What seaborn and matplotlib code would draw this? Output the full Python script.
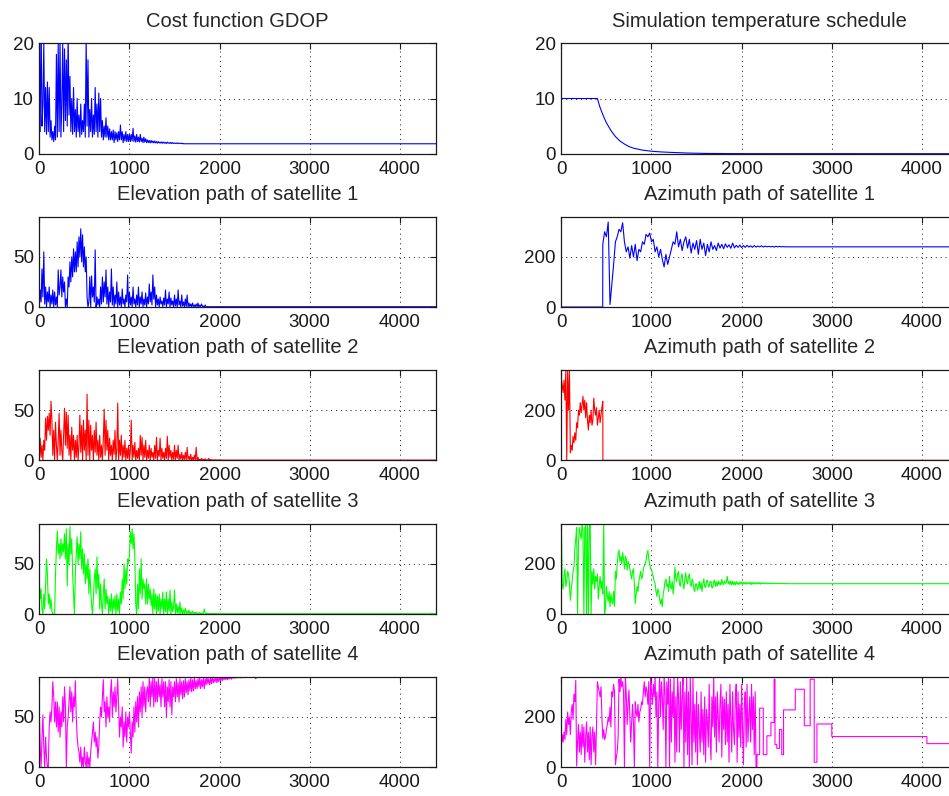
import numpy as np
import seaborn as sns
import matplotlib
matplotlib.use("Agg")
import matplotlib.pyplot as plt

sns.set_theme(style="white")
plt.rcParams['font.family'] = ['Liberation Sans', 'DejaVu Sans']

N_ITER = 4400

# cost function GDOP, read every 10 iterations from 0, then flat
gdop_step = 10
gdop_vals = [20, 4, 25, 5, 9, 20, 4, 12, 3.5, 13,
             4, 12, 3, 6, 2.5, 4, 2.2, 5, 2.5, 18,
             3, 20, 4, 21, 3, 9, 20, 4, 19, 6,
             17, 5, 22, 7, 14, 4, 10, 3.5, 12, 4,
             8, 3, 10, 4, 7, 3, 9, 3.5, 6, 4,
             9, 3, 21, 5, 17, 3, 8, 4, 10, 3,
             7, 3.5, 12, 4, 9, 3, 11, 4, 10, 3,
             6, 2.5, 5, 3, 6.5, 3, 5, 2.5, 4.5, 2.5,
             4, 2.5, 4.3, 2, 4, 2.5, 3.8, 2.2, 4, 2.5,
             5.2, 2.5, 4, 2, 3.5, 2.3, 4, 2.2, 3.5, 2.2,
             3.6, 2.2, 3.5, 2.3, 4.6, 2.2, 3.2, 2.1, 3.5, 2.2,
             3.0, 2.1, 3.5, 2.2, 2.8, 2.0, 3.0, 2.1, 2.7, 2.0,
             2.5, 2.0, 2.4, 1.95, 2.4, 2.0, 2.3, 1.95, 2.3, 1.95,
             2.2, 1.9, 2.2, 1.95, 2.1, 1.9, 2.15, 1.9, 2.1, 1.9,
             2.05, 1.85, 2.1, 1.9, 2.0, 1.85, 2.05, 1.85, 2.0, 1.85,
             1.95, 1.85, 1.95, 1.82, 1.95, 1.85, 1.9, 1.82, 1.9, 1.82, 1.85]
gdop_tail = 1.8

# simulated annealing temperature
temp_iter = [0, 400, 425, 450, 475, 500, 550, 600, 650, 700, 750, 800, 900, 1000, 1100, 1200, 1400, 1600, 2000, 4400]
temp_vals = [10, 10, 8.6, 7.5, 6.5, 5.6, 4.2, 3.1, 2.3, 1.75, 1.3, 1.0, 0.65, 0.45, 0.33, 0.25, 0.12, 0.05, 0.01, 0]

# elevation paths (deg), read every 10 iterations
el_step = 10
el1_vals = [0, 17, 5, 38, 10, 55, 3, 20, 0, 15,
            5, 20, 0, 12, 3, 17, 0, 15, 2, 10,
            0, 37, 12, 20, 37, 10, 30, 15, 25, 0,
            8, 0, 30, 20, 45, 25, 50, 30, 58, 35,
            55, 35, 65, 40, 70, 50, 78, 45, 72, 40,
            60, 35, 50, 10, 0, 5, 30, 0, 31, 10,
            20, 5, 57, 0, 10, 2, 8, 0, 20, 3,
            30, 5, 25, 10, 37, 3, 20, 0, 15, 5,
            38, 2, 20, 0, 12, 3, 25, 0, 15, 2,
            10, 0, 18, 3, 8, 0, 12, 5, 32, 0,
            15, 2, 10, 0, 20, 3, 8, 0, 12, 2,
            20, 0, 10, 3, 15, 0, 8, 2, 14, 0,
            10, 3, 23, 5, 15, 2, 32, 8, 20, 0,
            12, 2, 8, 0, 10, 3, 6, 0, 9, 2,
            17, 0, 8, 3, 15, 0, 9, 2, 6, 0,
            12, 1, 8, 0, 17, 2, 6, 0, 12, 1,
            5, 0, 8, 0.5, 12, 0, 4, 0.5, 3, 0,
            4, 0.5, 2, 0, 3, 0.3, 4, 0, 2, 0.5,
            3, 0.3, 1, 0.3, 2, 0.3]
el1_tail = 0.3

el2_vals = [0, 22, 3, 15, 0, 20, 10, 42, 20, 44,
            30, 47, 25, 59, 40, 5, 30, 0, 38, 15,
            0, 20, 47, 5, 30, 10, 0, 25, 52, 15,
            48, 12, 45, 5, 25, 0, 33, 10, 25, 0,
            20, 3, 25, 0, 15, 45, 8, 35, 0, 40,
            10, 30, 0, 66, 5, 40, 0, 35, 10, 25,
            0, 30, 8, 38, 5, 20, 0, 25, 3, 15,
            0, 20, 51, 5, 40, 10, 30, 0, 22, 5,
            15, 0, 20, 6, 30, 0, 10, 57, 0, 20,
            5, 25, 0, 15, 3, 20, 0, 12, 2, 15,
            0, 10, 40, 0, 15, 3, 18, 0, 10, 2,
            12, 0, 25, 5, 23, 0, 15, 3, 20, 0,
            10, 2, 15, 0, 12, 3, 8, 0, 15, 2,
            23, 0, 10, 4, 22, 0, 12, 2, 8, 0,
            12, 2, 24, 0, 15, 3, 10, 0, 8, 1,
            15, 0, 10, 2, 15, 0, 6, 1, 8, 0,
            5, 1, 8, 0, 13, 1, 4, 0, 6, 0,
            3, 0.5, 5, 0, 13, 0.5, 3, 0.3, 1, 0.2,
            2, 0.3, 0.8, 0.3, 1.5, 0.3, 0.5, 0.2, 2, 0.3,
            0.8, 0.3, 0.5, 0.3, 0.4, 0.3, 0.5, 0.2, 0.4, 0.3, 0.4]
el2_tail = 0.2

el3_vals = [32, 15, 25, 5, 0, 20, 5, 30, 55, 40,
            10, 20, 5, 15, 3, 0, 0, 0, 40, 65,
            83, 60, 70, 55, 75, 58, 70, 62, 80, 55,
            85, 28, 70, 50, 87, 60, 75, 40, 20, 0,
            40, 60, 77, 50, 70, 55, 82, 45, 65, 40,
            60, 30, 50, 35, 55, 20, 45, 25, 10, 0,
            15, 35, 45, 20, 57, 25, 40, 5, 30, 10,
            0, 20, 35, 5, 25, 10, 18, 0, 15, 3,
            20, 0, 15, 5, 18, 0, 20, 3, 15, 0,
            22, 10, 35, 15, 50, 25, 45, 30, 55, 50,
            60, 82, 70, 85, 65, 80, 55, 10, 0, 30,
            5, 45, 20, 55, 15, 35, 25, 30, 10, 35,
            10, 30, 15, 25, 8, 20, 0, 25, 5, 20,
            0, 18, 3, 20, 0, 15, 5, 22, 0, 15,
            2, 22, 0, 15, 3, 24, 0, 12, 2, 8,
            24, 0, 10, 1, 8, 0, 12, 0.5, 6, 0,
            4, 0.5, 6, 0, 3, 0.5, 4, 0, 2, 0.5,
            3, 0, 1.5, 0.3, 2, 0.3, 1, 0.3, 1.5, 0.3,
            1, 0.3, 0.8, 5, 0.3, 0.8, 0.3, 0.5, 0.3, 0.6,
            0.3, 0.5, 0.3, 0.4, 0.3, 0.5, 0.3, 0.4, 0.3, 0.4, 0.3]
el3_tail = 0.3

el4_vals = [55, 20, 0, 30, 52, 20, 0, 30, 10, 0,
            0, 40, 55, 45, 60, 85, 70, 45, 65, 40,
            65, 35, 60, 30, 55, 40, 70, 45, 80, 60,
            0, 40, 50, 65, 80, 55, 75, 45, 70, 60,
            86, 50, 30, 20, 15, 5, 20, 0, 10, 0,
            20, 5, 0, 15, 0, 10, 0, 15, 25, 35,
            45, 25, 35, 20, 30, 9, 20, 45, 60, 50,
            70, 87, 55, 65, 40, 70, 50, 60, 45, 75,
            87, 50, 75, 60, 80, 55, 70, 88, 60, 30,
            50, 40, 60, 20, 45, 30, 55, 25, 50, 40,
            55, 35, 14, 45, 30, 60, 35, 65, 45, 70,
            40, 75, 55, 80, 50, 85, 60, 80, 55, 75,
            80, 65, 90, 60, 85, 70, 90, 60, 88, 65,
            85, 65, 88, 70, 82, 60, 88, 70, 85, 60,
            85, 50, 80, 65, 87, 60, 85, 52, 80, 70,
            85, 65, 88, 70, 84, 65, 88, 72, 85, 68,
            86, 70, 88, 74, 85, 72, 87, 76, 89, 75,
            87, 76, 89, 78, 86, 78, 88, 80, 89, 78,
            87, 80, 89, 78, 88, 82, 90, 83, 88, 82,
            89, 83, 90, 84, 88, 85, 90, 84, 89, 85,
            89, 86, 90, 86, 89, 87, 90, 87, 89.5, 87,
            89.5, 88, 89.5, 87.5, 89.5, 88.5, 89.7, 88.5, 89.5, 88.8,
            89.5, 89, 89.7, 88.8, 89.6, 89, 89.5, 89.2, 89.7, 89.2,
            89.6, 89.3, 89.6, 89.4, 89.7, 89.4, 89.6, 89.5, 89.6, 89.5,
            88, 89.3, 89.5, 89.6, 89.5, 89.6, 89.5, 89.6, 89.5, 89.6, 89.5]
el4_tail = 89.5

# azimuth paths (deg)
az1_step = 20
az1_start = 460
az1_vals = [250, 300, 280, 339, 10, 90, 170, 260, 280, 310, 300, 336, 260, 220, 240, 195, 245, 200, 250, 185,
            230, 220, 260, 250, 290, 280, 295, 260, 270, 220, 240, 200, 230, 190, 160, 210, 170, 200, 230, 260,
            250, 300, 240, 270, 225, 260, 280, 235, 270, 215, 255, 230, 265, 210, 270, 230, 255, 205, 250, 220,
            260, 230, 245, 225, 255, 235, 250, 232, 252, 238, 248, 234, 255, 236, 246, 238, 247, 237, 245, 238,
            246, 239, 244, 238, 245, 239, 243, 240, 244, 239, 243, 240, 242, 240, 242, 239, 242, 240, 241.5, 240,
            241, 240, 240.5]
az1_tail = 240

az_step = 10
az2_vals = [324, 300, 270, 320, 240, 360, 0, 360, 200, 360,
            30, 60, 40, 95, 70, 110, 80, 150, 130, 200,
            180, 230, 190, 220, 255, 200, 240, 170, 230, 160,
            121, 180, 150, 200, 140, 160, 248, 200, 180, 210,
            140, 170, 200, 150, 180, 210, 235]
az2_tail = 0

az3_vals = [360, 120, 100, 150, 180, 110, 130, 170, 160, 120,
            55, 100, 130, 170, 190, 260, 300, 345, 0, 280,
            345, 320, 300, 360, 330, 0, 340, 360, 0, 360,
            0, 340, 360, 0, 170, 120, 180, 100, 150, 130,
            160, 60, 110, 150, 100, 130, 80, 360, 0, 30,
            110, 70, 50, 90, 30, 80, 50, 40, 90, 30,
            170, 140, 200, 240, 255, 210, 230, 200, 245, 220,
            180, 230, 220, 175, 210, 200, 180, 160, 140, 170,
            180, 120, 42, 80, 110, 90, 130, 150, 170, 140,
            150, 180, 190, 200, 215, 240, 253, 220, 200, 180,
            180, 160, 150, 130, 120, 90, 70, 100, 90, 60,
            40, 60, 29, 80, 100, 130, 140, 110, 120, 90,
            150, 110, 100, 130, 80, 120, 187, 140, 130, 160,
            170, 120, 110, 150, 160, 120, 100, 140, 165, 130,
            120, 150, 160, 120, 110, 140, 130, 100, 90, 120,
            120, 95, 110, 130, 100, 125, 90, 120, 140, 110,
            105, 130, 135, 110, 110, 130, 130, 105, 105, 130,
            135, 110, 128, 112, 132, 118, 126, 115, 138, 120,
            118, 132, 122, 128, 150, 120, 130, 118, 132, 116,
            130, 118, 127, 116, 130, 119, 125, 117, 128, 120,
            128, 118, 126, 120, 127, 119, 125, 121, 127, 119,
            126, 118, 125, 120, 126, 119, 124, 121, 126, 120,
            125, 119, 124, 121, 125, 120, 124, 121, 124, 120,
            123.5, 120.5, 123, 121, 123.5, 120.5, 123, 121, 122.5, 121,
            122.5, 121, 122, 121, 122.5, 121, 122, 121.2, 121.8, 121.2, 121.5]
az3_tail = 121

az4_vals = [80, 130, 100, 140, 110, 190, 130, 220, 170, 200,
            130, 220, 250, 190, 290, 260, 345, 5, 100, 170,
            60, 140, 50, 170, 80, 160, 20, 120, 180, 60,
            140, 30, 160, 10, 120, 160, 60, 140, 10, 160,
            340, 320, 300, 280, 320, 200, 115, 150, 110, 122,
            150, 170, 200, 180, 240, 160, 300, 280, 330, 300,
            10, 40, 60, 120, 350, 300, 360, 320, 340, 300,
            0, 360, 290, 170, 250, 307, 200, 100, 180, 250,
            180, 0, 260, 220, 200, 250, 180, 220, 230, 260,
            250, 300, 340, 280, 320, 300, 250, 340, 0, 360,
            300, 250, 330, 280, 360, 200, 300, 0, 250, 360,
            200, 340, 280, 150, 360, 300, 0, 340, 250, 360,
            0, 350, 100, 300, 200, 360, 20, 280, 60, 360,
            280, 60, 340, 150, 280, 360, 0, 300, 100, 360,
            50, 300, 0, 360, 200, 10, 360, 100, 250, 60,
            300, 10, 250, 150, 60, 300, 100, 230, 50, 280,
            20, 230, 180, 80, 330, 120, 30, 280, 160, 360,
            120, 280, 60, 300, 200, 100, 250, 330, 40, 280,
            150, 270, 90, 300, 100, 250, 20, 330, 200, 60,
            300, 150, 90, 270, 330, 20, 300, 120, 250, 80,
            330, 150, 10, 250, 300, 80, 330, 100, 200, 280,
            100, 330, 150, 280, 50, 300, 0]
# after the noisy part satellite 4 azimuth moves in steps
az4_step_iter = [2170, 2200, 2240, 2280, 2325, 2360, 2370, 2390, 2420, 2445, 2465, 2595, 2695, 2760, 2805,
                 2835, 3000, 4055]
az4_step_vals = [50, 235, 50, 125, 178, 350, 90, 75, 150, 50, 228, 310, 165, 350, 20,
                 172, 122, 94]

titles = ["Cost function GDOP", "Simulation temperature schedule",
          "Elevation path of satellite 1", "Azimuth path of satellite 1",
          "Elevation path of satellite 2", "Azimuth path of satellite 2",
          "Elevation path of satellite 3", "Azimuth path of satellite 3",
          "Elevation path of satellite 4", "Azimuth path of satellite 4"]


def sampled(vals, tail, step, start=0, before=None):
    x = start + step * np.arange(len(vals))
    y = np.array(vals, dtype=float)
    if before is not None:
        x = np.r_[0, start - 1, x]
        y = np.r_[before, before, y]
    x = np.r_[x, x[-1] + 1, N_ITER]
    y = np.r_[y, tail, tail]
    return x, y


x4 = az_step * np.arange(len(az4_vals))
sx = np.r_[np.repeat(az4_step_iter, 2), N_ITER]
sy = np.r_[az4_vals[-1], np.repeat(az4_step_vals, 2)]

series = [
    sampled(gdop_vals, gdop_tail, gdop_step),
    (np.array(temp_iter), np.array(temp_vals)),
    sampled(el1_vals, el1_tail, el_step),
    sampled(az1_vals, az1_tail, az1_step, start=az1_start, before=0),
    sampled(el2_vals, el2_tail, el_step),
    sampled(az2_vals, az2_tail, az_step),
    sampled(el3_vals, el3_tail, el_step),
    sampled(az3_vals, az3_tail, az_step),
    sampled(el4_vals, el4_tail, el_step),
    (np.r_[x4, sx], np.r_[az4_vals, sy]),
]

line_colors = ["blue", "blue", "blue", "blue", "red", "red", "lime", "lime", "magenta", "magenta"]
ylims = [20, 20, 90, 360, 90, 360, 90, 360, 90, 360]
yticks = [[0, 10, 20], [0, 10, 20]] + [[0, 50], [0, 200]] * 4

# axes placement (figure fractions) copied from the original layout
lefts = [0.0414, 0.5915]
rows = [(0.8069, 0.1387), (0.6143, 0.1134), (0.4217, 0.1134), (0.2286, 0.1134), (0.0361, 0.1138)]

fig = plt.figure(figsize=(9.49, 7.96), dpi=100)
for i in range(10):
    b, h = rows[i // 2]
    ax = fig.add_axes([lefts[i % 2], b, 0.418, h])
    x, y = series[i]
    sns.lineplot(x=x, y=y, ax=ax, color=line_colors[i], lw=0.8, estimator=None, sort=False)
    ax.set_xlim(0, N_ITER)
    ax.set_ylim(0, ylims[i])
    ax.set_xticks(range(0, 4001, 1000))
    ax.set_yticks(yticks[i])
    ax.grid(True, color="k", linestyle=(0, (1, 4)), linewidth=0.7)
    ax.tick_params(direction="in", top=True, right=True, length=4, width=0.8,
                   labelsize=13.5, colors="k", pad=5)
    ax.tick_params(axis="y", pad=4)
    for s in ax.spines.values():
        s.set_color("k")
        s.set_linewidth(0.9)
    ax.set_title(titles[i], fontsize=14.5, pad=12)

fig.savefig("out.png", dpi=100)
